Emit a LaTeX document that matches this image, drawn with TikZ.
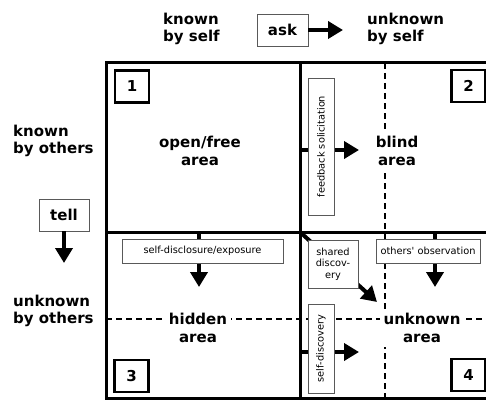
\documentclass[tikz,border=0pt]{standalone}
\usepackage{fontspec}
\setmainfont{DejaVu Sans}
\newfontfamily\labfont{DejaVu Sans}
\usetikzlibrary{arrows.meta}
\begin{document}
\begin{tikzpicture}[x=1pt,y=-1pt,
  big/.style={font=\fontsize{15}{17}\selectfont\bfseries, inner sep=0pt},
  area/.style={font=\fontsize{15}{18}\selectfont\bfseries, fill=white, align=center, inner sep=4pt},
  lab/.style={font=\labfont\fontsize{9.8}{11.5}\selectfont, draw=black!65, line width=0.9pt, fill=white, inner sep=0pt, align=center},
  tagbox/.style={font=\fontsize{15}{17}\selectfont\bfseries, draw=black!65, line width=0.9pt, fill=white, inner sep=0pt},
  numbox/.style={font=\fontsize{15}{17}\selectfont\bfseries, draw, line width=2.5pt, fill=white, inner sep=0pt, minimum width=34pt, minimum height=32pt},
  arr/.style={line width=4pt, -{Triangle[length=15pt,width=17pt]}},
  framel/.style={line width=3pt},
  dashline/.style={line width=1.2pt, dash pattern=on 6pt off 4pt}
]
\useasboundingbox (0,0) rectangle (486,401);
\clip (0,0) rectangle (486,401);

% dashed lines
\coordinate (dvt) at (385,63);
\coordinate (dvb) at (385,398);
\coordinate (dhl) at (106,319);
\coordinate (dhr) at (486,319);
\draw[dashline] (dvt) -- (dvb);
\draw[dashline] (dhl) -- (dhr);

% frame
\coordinate (ftl) at (106,63);
\coordinate (fbr) at (495,398);
\coordinate (fmt) at (300,63);
\coordinate (fmb) at (300,398);
\coordinate (fml) at (106,232);
\coordinate (fmr) at (495,232);
\draw[framel] (ftl) rectangle (fbr);
\draw[framel] (fmt) -- (fmb);
\draw[framel] (fml) -- (fmr);

% header labels
\node[big, align=left, anchor=west] (ks) at (163,29) {known\\by self};
\node[tagbox, minimum width=51pt, minimum height=32pt] (ask) at (282.5,30) {ask};
\node[big, align=left, anchor=west] (us) at (367,29) {unknown\\by self};
\coordinate (askt) at (343,30);
\draw[arr] (ask.east) -- (askt);

\node[big, align=left, anchor=west] (ko) at (13,141) {known\\by others};
\node[tagbox, minimum width=50pt, minimum height=32pt] (tell) at (64,215) {tell};
\coordinate (tellt) at (64,263);
\draw[arr] (tell.south) -- (tellt);
\node[big, align=left, anchor=west] (uo) at (13,311) {unknown\\by others};

% arrows inside
\coordinate (fbs) at (300,150);
\coordinate (fbt) at (359,150);
\draw[arr] (fbs) -- (fbt);
\coordinate (sds) at (199,232);
\coordinate (sdt) at (199,287);
\draw[arr] (sds) -- (sdt);
\coordinate (oos) at (435,232);
\coordinate (oot) at (435,287);
\draw[arr] (oos) -- (oot);
\coordinate (shs) at (300,232);
\coordinate (sht) at (377,302);
\draw[arr] (shs) -- (sht);
\coordinate (sfs) at (300,352);
\coordinate (sft) at (359,352);
\draw[arr] (sfs) -- (sft);

% label boxes
\node[lab, rotate=90, minimum width=137pt, minimum height=26pt] (fb) at (321,146.5) {feedback solicitation};
\node[lab, minimum width=161pt, minimum height=24pt] (sd) at (202.5,251) {self-disclosure/exposure};
\node[lab, minimum width=104pt, minimum height=24pt] (oo) at (428,251) {others' observation};
\node[lab, minimum width=50pt, minimum height=48pt] (sh) at (333,264) {shared\\discov-\\ery};
\node[lab, rotate=90, minimum width=89pt, minimum height=26pt] (sf) at (321,348.5) {self-discovery};

% area texts
\node[area] (open) at (200,151) {open/free\\area};
\node[area] (blind) at (397,151) {blind\\area};
\node[area] (hidden) at (198,328) {hidden\\area};
\node[area] (unknown) at (422,328) {unknown\\area};

% number boxes
\node[numbox] (n1) at (132,86.5) {1};
\node[numbox] (n2) at (468.5,86) {2};
\node[numbox] (n3) at (131.5,376) {3};
\node[numbox] (n4) at (468.5,375) {4};
\end{tikzpicture}
\end{document}
